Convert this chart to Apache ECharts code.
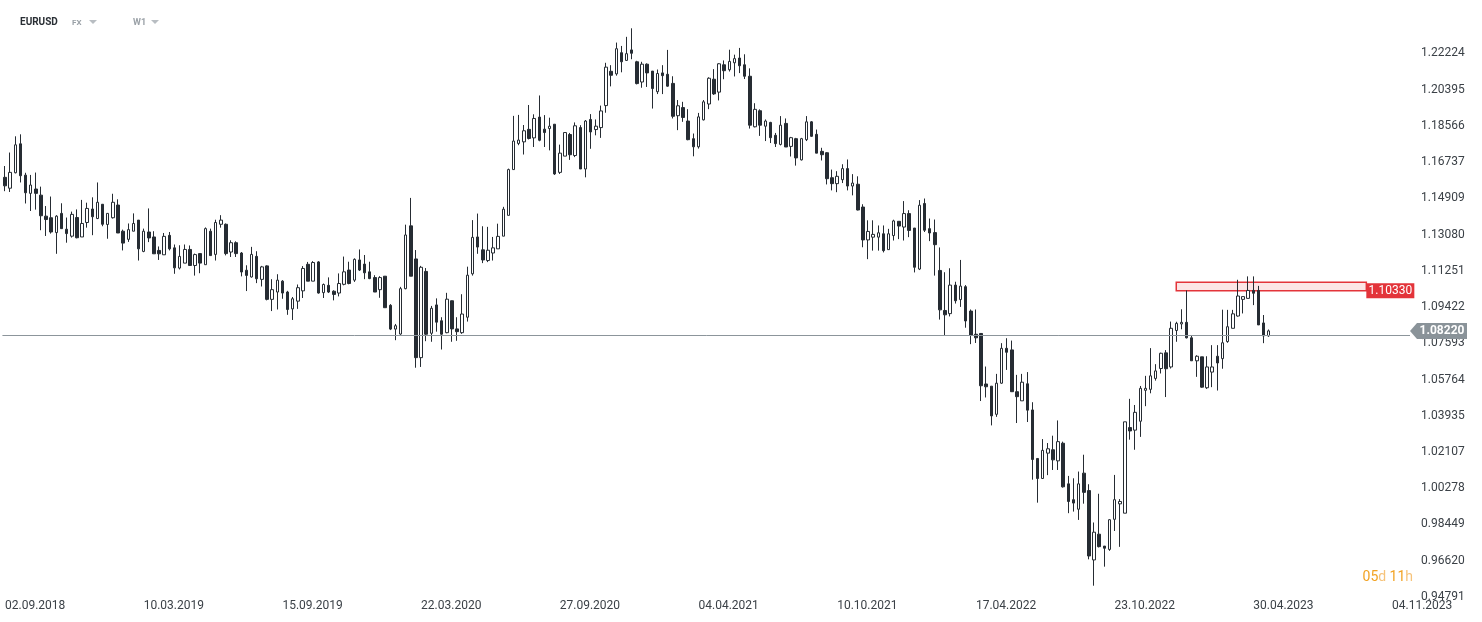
<!DOCTYPE html>
<html><head><meta charset="utf-8">
<script src="https://cdn.jsdelivr.net/npm/echarts@6/dist/echarts.min.js"></script>
<style>html,body{margin:0;padding:0;background:#fff}#c{width:1482px;height:622px}</style>
</head><body><div id="c"></div>
<script>
// ---------- DATA ----------
const startDateUTC = Date.UTC(2018, 8, 2);   // first weekly candle 02.09.2018
const totalWeeks = 274;                        // axis slots (data + empty future weeks)
const xTickLabels = ['02.09.2018','10.03.2019','15.09.2019','22.03.2020','27.09.2020','04.04.2021','10.10.2021','17.04.2022','23.10.2022','30.04.2023','04.11.2023'];
const xTickStep = 27;
const yTickValues = [1.22224,1.20395,1.18566,1.16737,1.14909,1.13080,1.11251,1.09422,1.07593,1.05764,1.03935,1.02107,1.00278,0.98449,0.96620,0.94791];

const opens = [
1.1597,1.1542,1.1620,1.1766,1.1608,1.1516,1.1538,1.1507,1.1401,1.1393,
1.1318,1.1415,1.1335,1.1300,1.1394,1.1296,1.1369,1.1437,1.1389,1.1461,
1.1359,1.1393,1.1457,1.1325,1.1284,1.1325,1.1381,1.1223,1.1321,1.1296,
1.1228,1.1206,1.1304,1.1241,1.1139,1.1164,1.1233,1.1152,1.1212,1.1156,
1.1325,1.1208,1.1360,1.1360,1.1220,1.1267,1.1215,1.1128,1.1094,1.1198,
1.1082,1.1150,1.0981,1.1018,1.1073,1.1018,1.0933,1.0972,1.1024,1.1158,
1.1073,1.1170,1.1015,1.1052,1.1022,1.1013,1.1057,1.1129,1.1078,1.1180,
1.1159,1.1120,1.1091,1.1030,1.1098,1.0951,1.0831,1.0806,1.1035,1.1352,
1.1185,1.0687,1.1122,1.0810,1.0953,1.0873,1.0813,1.0974,1.0832,1.0813,
1.0891,1.1110,1.1296,1.1231,1.1177,1.1215,1.1236,1.1300,1.1405,1.1636,
1.1768,1.1776,1.1839,1.1796,1.1901,1.1840,1.1843,1.1865,1.1622,1.1704,
1.1813,1.1707,1.1848,1.1639,1.1889,1.1838,1.1848,1.1959,1.2132,1.2119,
1.2226,1.2187,1.2240,1.2180,1.2078,1.2168,1.2133,1.2029,1.2124,1.2117,
1.2071,1.1908,1.1949,1.1881,1.1792,1.1751,1.1887,1.1967,1.2092,1.2027,
1.2165,1.2140,1.2175,1.2199,1.2165,1.2107,1.1852,1.1933,1.1855,1.1874,
1.1809,1.1763,1.1869,1.1753,1.1792,1.1685,1.1787,1.1877,1.1814,1.1728,
1.1721,1.1595,1.1565,1.1585,1.1641,1.1553,1.1562,1.1447,1.1281,1.1295,
1.1295,1.1312,1.1232,1.1303,1.1375,1.1346,1.1414,1.1341,1.1134,1.1465,
1.1338,1.1318,1.1127,1.0925,1.0909,1.1053,1.0980,1.1045,1.0922,1.0805,
1.0809,1.0554,1.0543,1.0401,1.0558,1.0734,1.0726,1.0515,1.0469,1.0555,
1.0423,1.0178,1.0077,1.0205,1.0222,1.0166,1.0255,1.0050,0.9970,0.9922,
1.0104,1.0016,0.9666,0.9796,0.9736,0.9719,0.9871,0.9949,0.9902,1.0334,
1.0321,1.0366,1.0522,1.0527,1.0582,1.0632,1.0711,1.0640,1.0824,1.0857,
1.0865,1.0787,1.0671,1.0691,1.0535,1.0614,1.0694,1.0682,1.0768,1.0835,
1.0897,1.0981,1.0986,1.1026,1.1026,1.0862,1.0797];

const highs = [
1.1654,1.1722,1.1804,1.1814,1.1620,1.1609,1.1621,1.1550,1.1452,1.1500,
1.1406,1.1466,1.1394,1.1424,1.1435,1.1483,1.1469,1.1496,1.1571,1.1462,
1.1415,1.1514,1.1486,1.1333,1.1364,1.1415,1.1381,1.1338,1.1440,1.1325,
1.1248,1.1316,1.1321,1.1258,1.1254,1.1258,1.1253,1.1212,1.1212,1.1344,
1.1338,1.1383,1.1406,1.1364,1.1279,1.1274,1.1220,1.1153,1.1246,1.1224,
1.1150,1.1153,1.1083,1.1108,1.1078,1.1024,1.0993,1.1056,1.1149,1.1170,
1.1174,1.1174,1.1061,1.1092,1.1027,1.1112,1.1197,1.1171,1.1188,1.1233,
1.1205,1.1171,1.1103,1.1098,1.1098,1.0957,1.0857,1.1044,1.1358,1.1493,
1.1230,1.1150,1.1139,1.0948,1.0986,1.0891,1.1014,1.0975,1.0891,1.1007,
1.1146,1.1381,1.1414,1.1350,1.1347,1.1296,1.1363,1.1448,1.1641,1.1907,
1.1912,1.1861,1.1962,1.1915,1.2010,1.1911,1.1898,1.1865,1.1762,1.1823,
1.1821,1.1874,1.1860,1.1886,1.1916,1.1889,1.1959,1.2175,1.2163,1.2277,
1.2260,1.2306,1.2349,1.2185,1.2180,1.2172,1.2133,1.2141,1.2163,1.2240,
1.2107,1.1987,1.1978,1.1941,1.1818,1.1922,1.1987,1.2102,1.2143,1.2173,
1.2187,1.2241,1.2216,1.2250,1.2218,1.2147,1.1971,1.1940,1.1889,1.1877,
1.1821,1.1906,1.1894,1.1801,1.1796,1.1796,1.1906,1.1881,1.1838,1.1746,
1.1724,1.1636,1.1628,1.1663,1.1687,1.1613,1.1602,1.1461,1.1380,1.1380,
1.1354,1.1354,1.1337,1.1383,1.1375,1.1477,1.1431,1.1341,1.1482,1.1490,
1.1389,1.1384,1.1243,1.1118,1.1138,1.1070,1.1180,1.1053,1.0930,1.0930,
1.0809,1.0642,1.0543,1.0605,1.0760,1.0785,1.0773,1.0600,1.0605,1.0614,
1.0462,1.0178,1.0276,1.0256,1.0293,1.0370,1.0263,1.0090,1.0078,1.0112,
1.0197,1.0048,0.9855,1.0000,0.9736,0.9872,1.0095,0.9973,1.0363,1.0479,
1.0448,1.0544,1.0595,1.0735,1.0654,1.0712,1.0725,1.0869,1.0868,1.0931,
1.1026,1.0800,1.0699,1.0691,1.0694,1.0750,1.0750,1.0929,1.0928,1.0928,
1.1080,1.0995,1.1097,1.1097,1.1049,1.0902,1.0829];

const lows = [
1.1527,1.1523,1.1617,1.1571,1.1465,1.1427,1.1434,1.1330,1.1301,1.1313,
1.1211,1.1338,1.1267,1.1293,1.1289,1.1296,1.1343,1.1305,1.1386,1.1350,
1.1287,1.1389,1.1316,1.1228,1.1271,1.1325,1.1177,1.1219,1.1270,1.1211,
1.1180,1.1206,1.1228,1.1110,1.1132,1.1164,1.1152,1.1101,1.1113,1.1156,
1.1202,1.1177,1.1343,1.1203,1.1195,1.1195,1.1097,1.1023,1.1091,1.1063,
1.1046,1.0976,1.0922,1.0930,1.0984,1.0903,1.0877,1.0933,1.0988,1.1073,
1.1073,1.1010,1.0988,1.1013,1.0976,1.0996,1.1052,1.1057,1.1069,1.1124,
1.1083,1.1083,1.1018,1.0989,1.0939,1.0826,1.0775,1.0802,1.1032,1.1098,
1.0636,1.0640,1.0770,1.0767,1.0818,1.0728,1.0810,1.0767,1.0772,1.0807,
1.0869,1.1101,1.1211,1.1164,1.1169,1.1177,1.1236,1.1300,1.1405,1.1636,
1.1759,1.1712,1.1788,1.1750,1.1779,1.1750,1.1733,1.1609,1.1614,1.1704,
1.1685,1.1699,1.1639,1.1597,1.1741,1.1809,1.1796,1.1923,1.2056,1.2110,
1.2127,1.2184,1.2193,1.2066,1.2049,1.2053,1.1944,1.2017,1.2017,1.2054,
1.1894,1.1835,1.1877,1.1784,1.1703,1.1742,1.1884,1.1941,1.2013,1.1985,
1.2092,1.2131,1.2106,1.2123,1.2093,1.1843,1.1849,1.1806,1.1780,1.1770,
1.1750,1.1758,1.1750,1.1702,1.1656,1.1682,1.1780,1.1801,1.1719,1.1682,
1.1561,1.1531,1.1522,1.1568,1.1531,1.1506,1.1430,1.1244,1.1184,1.1227,
1.1227,1.1218,1.1232,1.1278,1.1285,1.1278,1.1295,1.1117,1.1129,1.1321,
1.1275,1.1101,1.0879,1.0798,1.0895,1.0960,1.0943,1.0838,1.0755,1.0761,
1.0468,1.0486,1.0345,1.0388,1.0555,1.0625,1.0515,1.0357,1.0469,1.0362,
1.0071,0.9955,1.0077,1.0094,1.0120,1.0120,1.0031,0.9902,0.9910,0.9868,
0.9950,0.9669,0.9536,0.9729,0.9632,0.9712,0.9812,0.9732,0.9902,1.0273,
1.0222,1.0287,1.0442,1.0507,1.0571,1.0607,1.0488,1.0632,1.0767,1.0830,
1.0784,1.0671,1.0590,1.0535,1.0529,1.0538,1.0521,1.0631,1.0762,1.0835,
1.0894,1.0910,1.0986,1.0952,1.0852,1.0760,1.0792];

const closes = [
1.1554,1.1622,1.1761,1.1605,1.1519,1.1558,1.1516,1.1403,1.1384,1.1321,
1.1401,1.1338,1.1313,1.1410,1.1292,1.1364,1.1440,1.1398,1.1471,1.1360,
1.1415,1.1471,1.1316,1.1265,1.1333,1.1364,1.1236,1.1325,1.1291,1.1211,
1.1211,1.1299,1.1236,1.1140,1.1198,1.1233,1.1152,1.1207,1.1164,1.1338,
1.1202,1.1369,1.1381,1.1212,1.1267,1.1212,1.1119,1.1102,1.1208,1.1085,
1.1145,1.0981,1.1030,1.1078,1.1013,1.0930,1.0984,1.1040,1.1137,1.1073,
1.1167,1.1013,1.1056,1.1018,1.1006,1.1061,1.1120,1.1061,1.1183,1.1129,
1.1115,1.1086,1.1018,1.1091,1.0939,1.0831,1.0848,1.1035,1.1306,1.1098,
1.0687,1.1143,1.0805,1.0936,1.0866,1.0805,1.0982,1.0832,1.0818,1.0907,
1.1103,1.1294,1.1245,1.1180,1.1229,1.1241,1.1299,1.1436,1.1636,1.1780,
1.1785,1.1832,1.1793,1.1894,1.1784,1.1823,1.1855,1.1614,1.1719,1.1823,
1.1711,1.1857,1.1639,1.1881,1.1826,1.1855,1.1932,1.2153,1.2112,1.2246,
1.2180,1.2221,1.2223,1.2070,1.2168,1.2124,1.2045,1.2121,1.2110,1.2057,
1.1905,1.1958,1.1899,1.1787,1.1751,1.1902,1.1978,1.2097,1.2018,1.2170,
1.2135,1.2182,1.2196,1.2160,1.2107,1.1860,1.1940,1.1860,1.1881,1.1797,
1.1767,1.1860,1.1750,1.1797,1.1695,1.1792,1.1877,1.1804,1.1719,1.1711,
1.1590,1.1565,1.1602,1.1641,1.1553,1.1568,1.1432,1.1281,1.1324,1.1309,
1.1317,1.1227,1.1312,1.1377,1.1351,1.1414,1.1329,1.1143,1.1456,1.1330,
1.1316,1.1257,1.0928,1.0903,1.1053,1.0974,1.1048,1.0872,1.0800,1.0787,
1.0545,1.0540,1.0393,1.0558,1.0734,1.0714,1.0515,1.0490,1.0563,1.0422,
1.0173,1.0077,1.0219,1.0227,1.0171,1.0263,1.0035,0.9961,0.9953,1.0050,
1.0007,0.9686,0.9806,0.9733,0.9725,0.9869,0.9970,0.9961,1.0363,1.0317,
1.0411,1.0532,1.0532,1.0595,1.0620,1.0709,1.0631,1.0835,1.0860,1.0865,
1.0787,1.0671,1.0694,1.0538,1.0640,1.0640,1.0660,1.0762,1.0843,1.0908,
1.0998,1.0995,1.1026,1.1012,1.0852,1.0797,1.0822];

const lastPrice = 1.0822;
const lastPriceText = '1.08220';
const zoneTop = 1.1067, zoneBottom = 1.1025, zoneText = '1.10330';
const zoneStartIdx = 228, zoneEndIdx = 265;
const symbolName = 'EURUSD', marketName = 'FX', periodName = 'W1';
const countdownParts = ['05', 'd', '11', 'h'];

// ---------- BUILD ----------
function fmtDate(ms) {
  const d = new Date(ms);
  const p = n => String(n).padStart(2, '0');
  return p(d.getUTCDate()) + '.' + p(d.getUTCMonth() + 1) + '.' + d.getUTCFullYear();
}
const categories = [];
for (let i = 0; i < totalWeeks; i++) categories.push(fmtDate(startDateUTC + i * 7 * 86400000));
const candles = opens.map((o, i) => [o, closes[i], lows[i], highs[i]]);

const DARK = '#262c33';
const FONT = 'Roboto, "Noto Sans", sans-serif';
const chart = echarts.init(document.getElementById('c'), null, { renderer: 'canvas' });

chart.setOption({
  animation: false,
  backgroundColor: '#ffffff',
  grid: { left: 2.43, right: 72, top: 10, bottom: 22, containLabel: false },
  xAxis: {
    type: 'category', data: categories, boundaryGap: true,
    axisLine: { show: false }, axisTick: { show: false }, splitLine: { show: false },
    axisLabel: {
      interval: xTickStep - 1, align: 'left', margin: 0,
      color: '#3b4147', fontSize: 12, fontFamily: FONT,
      formatter: (v, idx) => (idx % xTickStep === 0 ? (xTickLabels[idx / xTickStep] || '') : '')
    }
  },
  yAxis: {
    type: 'value', position: 'right', scale: true,
    min: 0.94638, max: 1.24414,
    axisLine: { show: false }, axisTick: { show: false }, splitLine: { show: false },
    axisLabel: {
      customValues: yTickValues, margin: 11, color: '#3b4147', fontSize: 12, fontFamily: FONT,
      formatter: v => v.toFixed(5)
    }
  },
  series: [{
    type: 'candlestick',
    data: candles,
    barWidth: 3,
    itemStyle: { color: '#ffffff', color0: DARK, borderColor: DARK, borderColor0: DARK, borderWidth: 1 },
    markArea: {
      silent: true,
      itemStyle: { color: 'rgba(252,224,224,0.85)', borderColor: '#e3343a', borderWidth: 1.5 },
      data: [[{ xAxis: categories[zoneStartIdx], yAxis: zoneTop }, { xAxis: categories[zoneEndIdx], yAxis: zoneBottom }]]
    },
    markLine: {
      silent: true, symbol: 'none', animation: false,
      label: { show: false },
      lineStyle: { color: '#8c959b', width: 1, type: 'solid' },
      data: [{ yAxis: lastPrice }]
    }
  }]
});

// overlay labels positioned through the chart's own scales
const yLast = chart.convertToPixel({ yAxisIndex: 0 }, lastPrice);
const yZone = chart.convertToPixel({ yAxisIndex: 0 }, zoneBottom);
const xZoneEnd = chart.convertToPixel({ xAxisIndex: 0 }, categories[zoneEndIdx]);

chart.setOption({
  graphic: [
    { type: 'polygon', z: 100, shape: { points: [[1410, yLast], [1417, yLast - 8], [1467, yLast - 8], [1467, yLast + 8], [1417, yLast + 8]] },
      style: { fill: '#8a9399' } },
    { type: 'text', z: 101, x: 1442, y: yLast, style: { text: lastPriceText, fill: '#ffffff', font: 'bold 12px ' + FONT, textAlign: 'center', textVerticalAlign: 'middle' } },
    { type: 'rect', z: 100, shape: { x: xZoneEnd, y: yZone - 7.5, width: 48, height: 15 }, style: { fill: '#e3343a' } },
    { type: 'text', z: 101, x: xZoneEnd + 24, y: yZone, style: { text: zoneText, fill: '#ffffff', font: '12px ' + FONT, textAlign: 'center', textVerticalAlign: 'middle' } },
    { type: 'text', z: 101, x: 1413, y: 577, style: {
        text: '{n|' + countdownParts[0] + '}{u|' + countdownParts[1] + '} {n|' + countdownParts[2] + '}{u|' + countdownParts[3] + '}',
        textAlign: 'right', textVerticalAlign: 'middle',
        rich: { n: { fill: '#f2a324', font: '14px ' + FONT }, u: { fill: '#f6c37a', font: '14px ' + FONT } } } },
    { type: 'text', z: 101, x: 20, y: 22, style: { text: symbolName, fill: '#2a2f35', font: 'bold 10px ' + FONT, textVerticalAlign: 'middle' } },
    { type: 'text', z: 101, x: 72, y: 22.5, style: { text: marketName, fill: '#9aa1a7', font: 'bold 8px ' + FONT, textVerticalAlign: 'middle' } },
    { type: 'polygon', z: 101, shape: { points: [[89, 20], [97, 20], [93, 24]] }, style: { fill: '#b8bdc2' } },
    { type: 'text', z: 101, x: 133, y: 22.5, style: { text: periodName, fill: '#9aa1a7', font: 'bold 9px ' + FONT, textVerticalAlign: 'middle' } },
    { type: 'polygon', z: 101, shape: { points: [[151, 20], [159, 20], [155, 24]] }, style: { fill: '#b8bdc2' } }
  ]
});
</script></body></html>
